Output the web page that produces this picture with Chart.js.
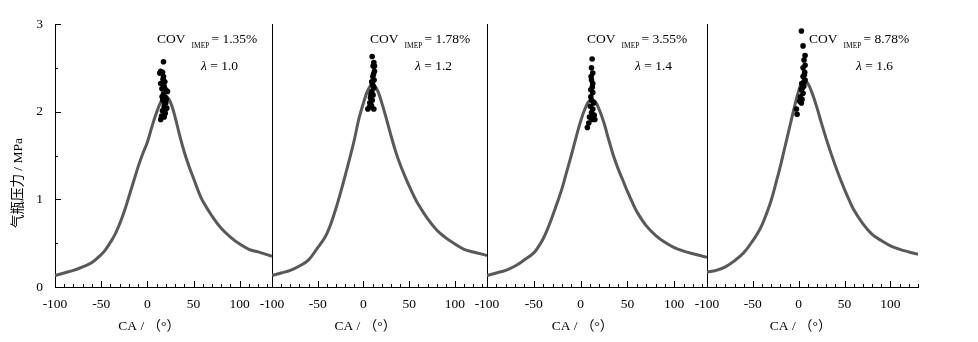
<!DOCTYPE html>
<html>
<head>
<meta charset="utf-8">
<script src="https://cdn.jsdelivr.net/npm/chart.js@4/dist/chart.umd.min.js"></script>
<style>
html,body{margin:0;background:#fff}
#wrap{position:relative;width:978px;height:342px;overflow:hidden}
#wrap canvas{position:absolute;left:0;top:0}
</style>
</head>
<body>
<div id="wrap">
  <canvas id="c1" width="978" height="342"></canvas>
  <canvas id="c2" width="978" height="342"></canvas>
  <canvas id="c3" width="978" height="342"></canvas>
  <canvas id="c4" width="978" height="342"></canvas>
</div>
<script>
// crank angle grid, deg
const caDeg=[-100,-90,-80,-70,-60,-50,-45,-40,-35,-30,-25,-20,-15,-10,-5,0,5,10,15,20,25,30,35,40,45,50,55,60,70,80,90,100,110,120,135];
// mean cylinder pressure, MPa
const p10=[0.13,0.16,0.19,0.23,0.28,0.37,0.43,0.51,0.60,0.72,0.86,1.03,1.20,1.37,1.52,1.65,1.83,1.99,2.12,2.18,2.11,1.94,1.73,1.54,1.38,1.24,1.10,0.98,0.81,0.67,0.57,0.49,0.43,0.40,0.35];
const p12=[0.13,0.16,0.19,0.24,0.31,0.45,0.52,0.61,0.74,0.90,1.08,1.27,1.47,1.68,1.92,2.10,2.25,2.31,2.25,2.10,1.92,1.73,1.55,1.40,1.27,1.15,1.04,0.94,0.78,0.65,0.56,0.49,0.43,0.40,0.36];
const p14=[0.13,0.16,0.19,0.24,0.31,0.39,0.46,0.55,0.67,0.81,0.96,1.12,1.31,1.50,1.70,1.89,2.04,2.13,2.12,2.02,1.87,1.68,1.50,1.35,1.22,1.09,0.97,0.86,0.70,0.59,0.51,0.45,0.41,0.38,0.34];
const p16=[0.17,0.19,0.23,0.30,0.39,0.53,0.61,0.71,0.84,0.99,1.18,1.38,1.60,1.82,2.04,2.24,2.36,2.32,2.20,2.04,1.86,1.69,1.53,1.38,1.24,1.11,0.99,0.88,0.72,0.60,0.53,0.47,0.43,0.40,0.36];

// cycle-by-cycle peak pressure (angle, MPa)
const pk10X=[17.5,14.5,16.4,17.5,18.9,18.2,20,17.5,19.3,16.7,20,18.2,21,16.4,19.3,15.3,18.2,14.5,20.4,14.5,21.8,16,19,13.5,17,18.5,15.8];
const pk10Y=[2.57,2.46,2.45,2.40,2.34,2.29,2.25,2.20,2.16,2.13,2.10,2.05,2.04,2.01,1.98,1.95,1.94,1.91,2.14,2.32,2.23,2.17,1.99,2.44,2.37,2.08,2.26];
const pk12X=[9.5,11.3,10.5,12,10.2,11.6,9.8,11.3,9.1,10.5,7.6,9.5,6.9,8.7,4.7,11.3,6.5,12,9,11,10.8,8.2];
const pk12Y=[2.63,2.56,2.52,2.46,2.40,2.36,2.31,2.27,2.23,2.19,2.16,2.13,2.10,2.07,2.03,2.03,2.05,2.52,2.34,2.43,2.29,2.20];
const pk14X=[12.3,11.6,13,11.6,13,10.9,13,11.6,14.1,10.5,13,11.6,14.5,9.4,12.3,8.7,7.2,15.2,10.9,12.5,11.2];
const pk14Y=[2.60,2.50,2.44,2.36,2.32,2.25,2.22,2.13,2.10,2.06,2.03,1.99,1.96,1.94,1.91,1.87,1.82,1.91,2.17,2.28,2.40];
const pk16X=[2.9,4.7,6.9,5.8,6.9,4.7,6.5,4.7,6.9,3.3,5.5,2.9,4.7,1.8,3.6,1.1,2.9,-2.5,-1.8,5.8,6.2,3.9];
const pk16Y=[2.92,2.75,2.64,2.59,2.53,2.50,2.45,2.40,2.36,2.32,2.29,2.25,2.21,2.17,2.14,2.12,2.10,2.03,1.97,2.33,2.42,2.27];

const xTicks=[-100,-50,0,50,100];
const yTicks=[0,1,2,3];
const covText=['1.35%','1.78%','3.55%','8.78%'];
const lambdaText=['1.0','1.2','1.4','1.6'];

const SERIF="'Liberation Serif','Noto Sans CJK SC',serif";
const W=978,H=342,TOP=24,BOTTOM=287;

// plot area edges of each panel
const panels=[
  {id:'c1',left:55,right:272,xmax:135,curve:p10,px:pk10X,py:pk10Y,cov:102,lam:146,first:true},
  {id:'c2',left:272,right:487,xmax:135,curve:p12,px:pk12X,py:pk12Y,cov:98,lam:143},
  {id:'c3',left:487,right:707,xmax:135,curve:p14,px:pk14X,py:pk14Y,cov:100,lam:148},
  {id:'c4',left:707,right:918,xmax:130,curve:p16,px:pk16X,py:pk16Y,cov:102,lam:149}
];

const deco={
  id:'deco',
  afterDraw(chart,args,o){
    const {ctx,chartArea:a,scales:{x,y}}=chart;
    ctx.save();
    ctx.strokeStyle='#000';ctx.lineWidth=1;
    ctx.beginPath();
    for(let v=-100;v<=x.max;v+=10){
      const px=Math.round(x.getPixelForValue(v))+0.5;
      ctx.moveTo(px,a.bottom);ctx.lineTo(px,a.bottom-(v%50===0?6:3));
    }
    if(o.first){
      for(let v=0.5;v<=3;v+=0.5){
        const py=Math.round(y.getPixelForValue(v))+0.5;
        ctx.moveTo(a.left,py);ctx.lineTo(a.left+(v%1===0?6:3),py);
      }
    }
    ctx.stroke();
    ctx.fillStyle='#000';
    ctx.textBaseline='alphabetic';
    // x title
    ctx.font='13.5px '+SERIF;ctx.textAlign='center';
    ctx.fillText('CA / （°）',x.getPixelForValue(2),330);
    // y title
    if(o.first){
      ctx.save();ctx.translate(22,183);ctx.rotate(-Math.PI/2);
      ctx.font='13.5px '+SERIF;ctx.fillText('气瓶压力 / MPa',0,0);
      ctx.restore();
    }
    // annotation
    ctx.textAlign='left';
    let tx=a.left+o.cov;
    ctx.font='13.5px '+SERIF;ctx.fillText('COV',tx,43);
    tx+=ctx.measureText('COV').width+6;
    ctx.font='7.5px '+SERIF;ctx.fillText('IMEP',tx,48);
    tx+=ctx.measureText('IMEP').width+2;
    ctx.font='13.5px '+SERIF;ctx.fillText('= '+o.cov_t,tx,43);
    tx=a.left+o.lam;
    ctx.font='italic 13.5px '+SERIF;ctx.fillText('λ',tx,70);
    tx+=ctx.measureText('λ').width;
    ctx.font='13.5px '+SERIF;ctx.fillText(' = '+o.lam_t,tx,70);
    ctx.restore();
  }
};

panels.forEach((p,i)=>{
  new Chart(document.getElementById(p.id),{
    type:'line',
    data:{datasets:[
      {data:p.px.map((v,k)=>({x:v,y:p.py[k]})),showLine:false,pointRadius:2.8,pointBackgroundColor:'#000',pointBorderWidth:0,order:0},
      {data:caDeg.map((v,k)=>({x:v,y:p.curve[k]})),borderColor:'#595959',borderWidth:3,pointRadius:0,tension:0.4,order:1}
    ]},
    options:{
      responsive:false,animation:false,
      layout:{padding:{left:p.left-40,right:W-p.right,top:TOP,bottom:0}},
      plugins:{legend:{display:false},tooltip:{enabled:false},
        deco:{first:!!p.first,cov:p.cov,lam:p.lam,cov_t:covText[i],lam_t:lambdaText[i]}},
      scales:{
        x:{type:'linear',min:-100,max:p.xmax,
          afterBuildTicks:s=>{s.ticks=xTicks.map(v=>({value:v}));},
          afterFit:s=>{s.height=H-BOTTOM;},
          grid:{display:false,drawTicks:false},
          border:{display:true,color:'#000',width:1},
          ticks:{padding:9,color:'#000',font:{family:SERIF,size:13.5},maxRotation:0}},
        y:{type:'linear',min:0,max:3,
          afterBuildTicks:s=>{s.ticks=yTicks.map(v=>({value:v}));},
          afterFit:s=>{s.width=40;},
          grid:{display:false,drawTicks:false},
          border:{display:true,color:'#000',width:1},
          ticks:{display:!!p.first,padding:12,color:'#000',font:{family:SERIF,size:13.5}}}
      }
    },
    plugins:[deco]
  });
});
</script>
</body>
</html>
